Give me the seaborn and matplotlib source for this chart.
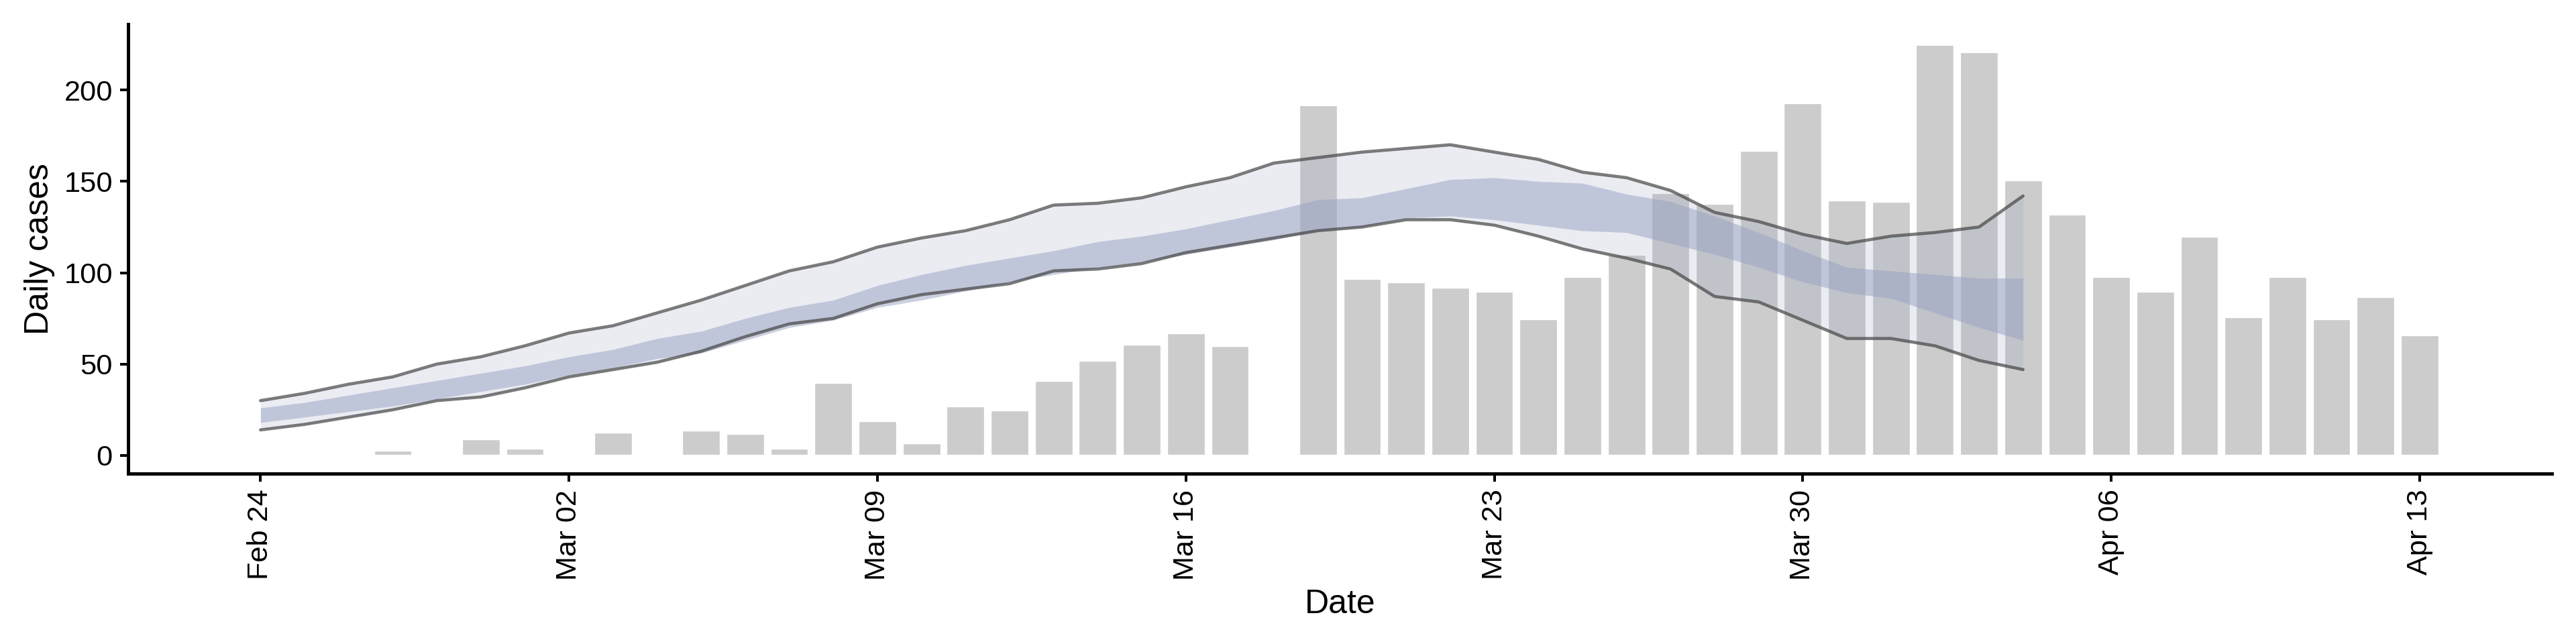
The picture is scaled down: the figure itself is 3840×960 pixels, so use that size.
import numpy as np
import pandas as pd
import matplotlib
matplotlib.use("Agg")
import matplotlib.pyplot as plt
import matplotlib.dates as mdates
import seaborn as sns

# daily case counts, Feb 24 .. Apr 13
bar_dates = pd.date_range("2020-02-24", "2020-04-13", freq="D")
cases = [0, 0, 0, 3, 1, 9, 4, 0, 13, 1, 14, 12, 4, 40, 19, 7, 27, 25, 41, 52,
         61, 67, 60, 0, 192, 97, 95, 92, 90, 75, 98, 110, 144, 138, 167, 193,
         140, 139, 225, 221, 151, 132, 98, 90, 120, 76, 98, 75, 87, 66]

# model bands, Feb 24 .. Apr 4
band_dates = pd.date_range("2020-02-24", "2020-04-04", freq="D")
outer_hi = [30, 34, 39, 43, 50, 54, 60, 67, 71, 78, 85, 93, 101, 106, 114, 119, 123,
            129, 137, 138, 141, 147, 152, 160, 163, 166, 168, 170, 166, 162, 155,
            152, 145, 133, 128, 121, 116, 120, 122, 125, 142]
outer_lo = [14, 17, 21, 25, 30, 32, 37, 43, 47, 51, 57, 65, 72, 75, 83, 88, 91, 94,
            101, 102, 105, 111, 115, 119, 123, 125, 129, 129, 126, 120, 113, 108,
            102, 87, 84, 74, 64, 64, 60, 52, 47]
inner_hi = [26, 29, 33, 37, 41, 45, 49, 54, 58, 64, 68, 75, 81, 85, 93, 99, 104, 108,
            112, 117, 120, 124, 129, 134, 140, 141, 146, 151, 152, 150, 149, 143,
            139, 131, 122, 112, 103, 101, 99, 97, 97]
inner_lo = [18, 21, 24, 27, 31, 35, 39, 44, 48, 53, 56, 63, 70, 74, 81, 85, 90, 95,
            99, 103, 106, 110, 114, 118, 123, 125, 130, 131, 129, 126, 123, 122,
            116, 110, 103, 95, 89, 86, 78, 70, 63]

sns.set_style("ticks")
plt.rcParams["font.family"] = ["Liberation Sans", "DejaVu Sans"]
plt.rcParams["text.color"] = "black"
plt.rcParams["axes.labelcolor"] = "black"
plt.rcParams["xtick.color"] = "black"
plt.rcParams["ytick.color"] = "black"

fig, ax = plt.subplots(figsize=(16, 4), dpi=240)
ax.bar(bar_dates, cases, width=0.88, color="#cccccc", zorder=1)

band = pd.DataFrame({"date": band_dates, "hi": outer_hi, "lo": outer_lo})
ax.fill_between(band_dates, outer_lo, outer_hi, color="#98a2c2", alpha=0.2, lw=0, zorder=2)
ax.fill_between(band_dates, inner_lo, inner_hi, color="#98a2c2", alpha=0.5, lw=0, zorder=2)
sns.lineplot(data=band, x="date", y="hi", color="#444444", alpha=0.7, lw=1.4, ax=ax, zorder=3)
sns.lineplot(data=band, x="date", y="lo", color="#444444", alpha=0.7, lw=1.4, ax=ax, zorder=3)

ax.set_xlim(pd.Timestamp("2020-02-21"), pd.Timestamp("2020-04-16"))
ax.set_ylim(-10, 236)
ax.set_yticks([0, 50, 100, 150, 200])
ticks = pd.date_range("2020-02-24", "2020-04-13", freq="7D")
ax.set_xticks(ticks)
ax.xaxis.set_major_formatter(mdates.DateFormatter("%b %d"))
ax.tick_params(axis="x", rotation=90, labelsize=13, width=1.2)
ax.tick_params(axis="y", labelsize=13, width=1.2)
for s in ["left", "bottom"]:
    ax.spines[s].set_color("black")
    ax.spines[s].set_linewidth(1.5)
ax.set_xlabel("Date", fontsize=15)
ax.set_ylabel("Daily cases", fontsize=15)
sns.despine(ax=ax)
plt.tight_layout()
plt.savefig("out.png", dpi=240)
